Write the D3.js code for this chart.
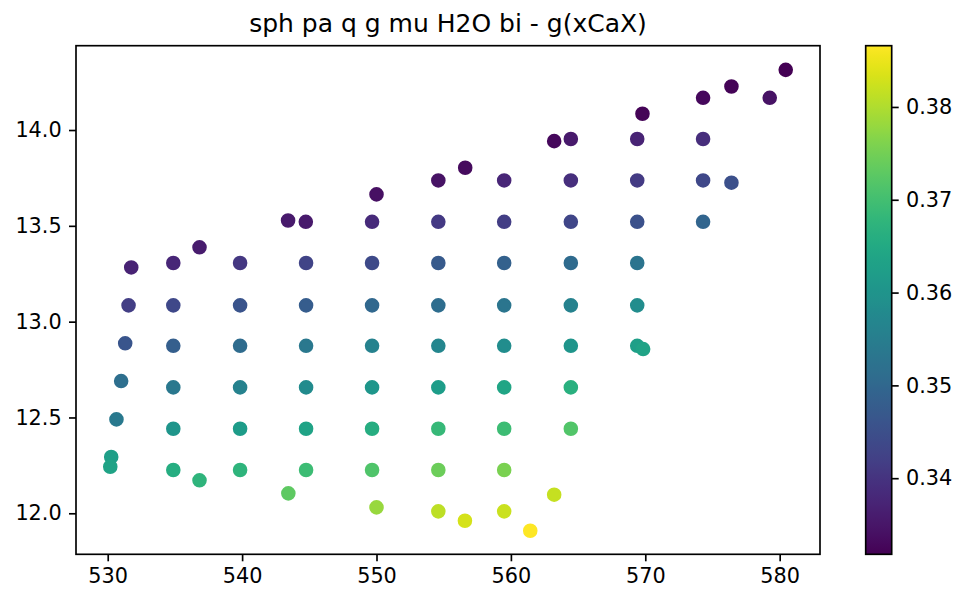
<!DOCTYPE html>
<html>
<head>
<meta charset="utf-8">
<script src="https://cdn.jsdelivr.net/npm/d3@7"></script>
<style>
  html, body { margin: 0; padding: 0; background: #fff; }
  svg { display: block; }
  text { font-family: "DejaVu Sans", sans-serif; fill: #000; }
</style>
</head>
<body>
<svg id="chart" width="968" height="605"></svg>
<script>
const titleText = "sph pa q g mu H2O bi - g(xCaX)";

const xs = [
  531.75, 536.83, 543.42, 544.74, 550.00, 554.60, 556.60, 563.22, 564.46, 569.79, 574.30, 576.41, 579.26, 580.45,
  569.40, 574.30,
  559.50, 564.46, 569.40, 574.30, 576.41,
  549.67, 554.60, 559.50, 564.46, 569.40, 574.30,
  534.88, 539.85, 544.76, 549.67, 554.60, 559.50, 564.46, 569.40,
  531.55, 534.88, 539.85, 544.76, 549.67, 554.60, 559.50, 564.46, 569.40,
  531.30, 534.88, 539.85, 544.76, 549.67, 554.60, 559.50, 564.46, 569.40, 569.84,
  531.00, 534.88, 539.85, 544.76, 549.67, 554.60, 559.50, 564.46,
  530.65, 534.88, 539.85, 544.76, 549.67, 554.60, 559.50, 564.46,
  530.26, 530.19, 534.88, 539.85, 544.76, 549.67, 554.60, 559.50,
  536.83, 543.44, 550.00, 554.60, 556.58, 559.50, 563.22, 561.44
];
const ys = [
  13.283, 13.388, 13.528, 13.521, 13.664, 13.737, 13.803, 13.942, 13.953, 14.085, 14.168, 14.227, 14.168, 14.314,
  13.953, 13.953,
  13.737, 13.737, 13.737, 13.737, 13.725,
  13.521, 13.521, 13.521, 13.521, 13.521, 13.521,
  13.306, 13.306, 13.306, 13.306, 13.306, 13.306, 13.306, 13.306,
  13.085, 13.085, 13.085, 13.085, 13.085, 13.085, 13.085, 13.085, 13.085,
  12.887, 12.874, 12.874, 12.874, 12.874, 12.874, 12.874, 12.874, 12.874, 12.857,
  12.690, 12.657, 12.657, 12.657, 12.657, 12.657, 12.657, 12.657,
  12.490, 12.441, 12.441, 12.441, 12.441, 12.441, 12.441, 12.441,
  12.294, 12.243, 12.226, 12.226, 12.226, 12.226, 12.226, 12.226,
  12.172, 12.104, 12.031, 12.010, 11.961, 12.010, 12.097, 11.909
];
const vals = [
  0.3370, 0.3359, 0.3356, 0.3356, 0.3340, 0.3345, 0.3334, 0.3329, 0.3356, 0.3323, 0.3329, 0.3323, 0.3345, 0.3318,
  0.3373, 0.3389,
  0.3376, 0.3392, 0.3414, 0.3436, 0.3452,
  0.3384, 0.3408, 0.3417, 0.3433, 0.3455, 0.3495,
  0.3376, 0.3406, 0.3428, 0.3441, 0.3471, 0.3485, 0.3507, 0.3529,
  0.3417, 0.3436, 0.3460, 0.3477, 0.3502, 0.3512, 0.3530, 0.3560, 0.3585,
  0.3463, 0.3482, 0.3510, 0.3537, 0.3559, 0.3570, 0.3585, 0.3603, 0.3625, 0.3636,
  0.3515, 0.3537, 0.3559, 0.3581, 0.3606, 0.3620, 0.3640, 0.3666,
  0.3540, 0.3603, 0.3619, 0.3636, 0.3660, 0.3685, 0.3693, 0.3718,
  0.3625, 0.3636, 0.3658, 0.3674, 0.3693, 0.3715, 0.3743, 0.3756,
  0.3674, 0.3729, 0.3781, 0.3811, 0.3830, 0.3822, 0.3817, 0.3866
];

const xTicks = [530, 540, 550, 560, 570, 580];
const yTicks = [12.0, 12.5, 13.0, 13.5, 14.0];
const cTicks = [0.34, 0.35, 0.36, 0.37, 0.38];

const xDomain = [527.64, 583.0];
const yDomain = [11.786, 14.44];

const svg = d3.select("#chart");
const L = 76, R = 820, T = 45.7, B = 554.3;
const tickLen = 7, tickPad = 7.3, tickFont = 20.8;

const x = d3.scaleLinear().domain(xDomain).range([L, R]);
const y = d3.scaleLinear().domain(yDomain).range([B, T]);
const cExt = d3.extent(vals);
const color = d3.scaleSequential(d3.interpolateViridis).domain(cExt);

// title
svg.append("text")
  .attr("x", (L + R) / 2).attr("y", 31.7)
  .attr("text-anchor", "middle")
  .attr("font-size", 25)
  .text(titleText);

// points
const pts = xs.map((d, i) => ({ x: d, y: ys[i], v: vals[i] }));
svg.append("g").selectAll("circle").data(pts).join("circle")
  .attr("cx", d => x(d.x)).attr("cy", d => y(d.y))
  .attr("r", 6.25)
  .attr("fill", d => color(d.v))
  .attr("stroke", d => color(d.v))
  .attr("stroke-width", 2.08);

// axes
const xAxis = d3.axisBottom(x).tickValues(xTicks).tickFormat(d3.format("d"))
  .tickSizeOuter(0).tickSizeInner(tickLen).tickPadding(tickPad);
const gx = svg.append("g").attr("transform", `translate(0,${B})`).call(xAxis);
gx.select(".domain").remove();
gx.selectAll("line").attr("stroke", "#000").attr("stroke-width", 1.67);
gx.selectAll("text").attr("font-size", tickFont).attr("font-family", "DejaVu Sans").attr("fill", "#000");

const yAxis = d3.axisLeft(y).tickValues(yTicks).tickFormat(d3.format(".1f"))
  .tickSizeOuter(0).tickSizeInner(tickLen).tickPadding(tickPad);
const gy = svg.append("g").attr("transform", `translate(${L},0)`).call(yAxis);
gy.select(".domain").remove();
gy.selectAll("line").attr("stroke", "#000").attr("stroke-width", 1.67);
gy.selectAll("text").attr("font-size", tickFont).attr("font-family", "DejaVu Sans").attr("fill", "#000");

// frame
svg.append("rect")
  .attr("x", L).attr("y", T).attr("width", R - L).attr("height", B - T)
  .attr("fill", "none").attr("stroke", "#000").attr("stroke-width", 1.67);

// colorbar
const CL = 865.7, CR = 891.7;
const cy = d3.scaleLinear().domain(cExt).range([B, T]);
const defs = svg.append("defs");
const grad = defs.append("linearGradient").attr("id", "vgrad")
  .attr("x1", "0").attr("y1", "1").attr("x2", "0").attr("y2", "0");
d3.range(0, 1.0001, 0.02).forEach(t => {
  grad.append("stop").attr("offset", t).attr("stop-color", d3.interpolateViridis(t));
});
svg.append("rect")
  .attr("x", CL).attr("y", T).attr("width", CR - CL).attr("height", B - T)
  .attr("fill", "url(#vgrad)");
const cAxis = d3.axisRight(cy).tickValues(cTicks).tickFormat(d3.format(".2f"))
  .tickSizeOuter(0).tickSizeInner(tickLen).tickPadding(tickPad);
const gc = svg.append("g").attr("transform", `translate(${CR},0)`).call(cAxis);
gc.select(".domain").remove();
gc.selectAll("line").attr("stroke", "#000").attr("stroke-width", 1.67);
gc.selectAll("text").attr("font-size", tickFont).attr("font-family", "DejaVu Sans").attr("fill", "#000");
svg.append("rect")
  .attr("x", CL).attr("y", T).attr("width", CR - CL).attr("height", B - T)
  .attr("fill", "none").attr("stroke", "#000").attr("stroke-width", 1.67);
</script>
</body>
</html>
